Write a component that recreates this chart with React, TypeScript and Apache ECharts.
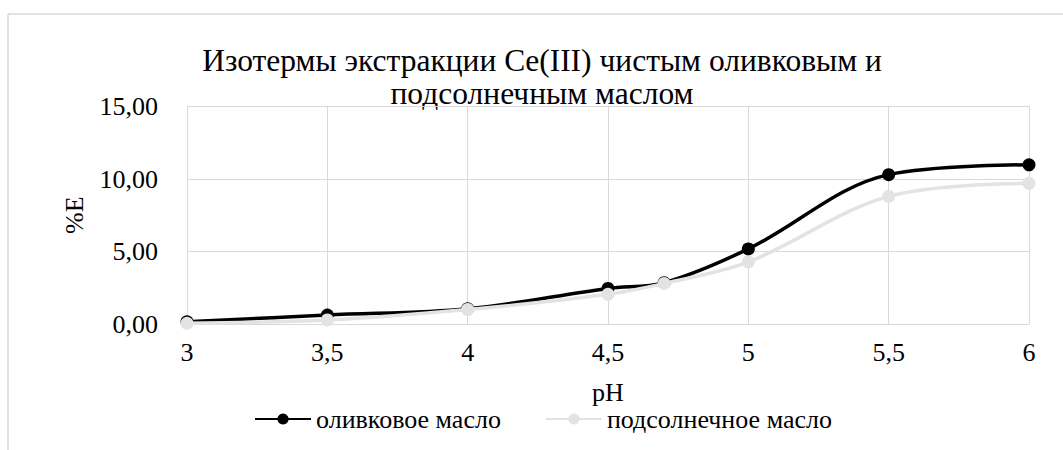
import React, { useEffect, useRef } from "react";
import * as echarts from "echarts";

const pH = [3, 3.5, 4, 4.5, 4.7, 5, 5.5, 6];
const oliveValues = [0.15, 0.62, 1.05, 2.45, 2.85, 5.18, 10.3, 10.98];
const sunflowerValues = [0.05, 0.28, 1.0, 2.05, 2.8, 4.28, 8.8, 9.7];
const seriesNames = ["оливковое масло", "подсолнечное масло"];
const titleLines = ["Изотермы экстракции Ce(III) чистым оливковым и", "подсолнечным маслом"];
const xAxisName = "pH";
const yAxisName = "%E";

const FONT = "Liberation Serif";

export default function App() {
  const ref = useRef<HTMLDivElement>(null);
  useEffect(() => {
    document.body.style.margin = "0";
    const chart = echarts.init(ref.current!, null, { renderer: "svg" });
    const toPairs = (vals: number[]) => pH.map((x, i) => [x, vals[i]]);
    chart.setOption({
      animation: false,
      backgroundColor: "#fff",
      textStyle: { fontFamily: FONT, color: "#000" },
      graphic: [
        { type: "line", shape: { x1: 8, y1: 14, x2: 8, y2: 450 }, style: { stroke: "#d9d9d9", lineWidth: 1.5 } },
        { type: "line", shape: { x1: 8, y1: 14, x2: 1063, y2: 14 }, style: { stroke: "#d9d9d9", lineWidth: 1.5 } },
        {
          type: "text", x: 542, y: 60,
          style: { text: titleLines[0], fontFamily: FONT, fontSize: 31.5, fill: "#000", align: "center", verticalAlign: "middle" },
        },
        {
          type: "text", x: 542, y: 93,
          style: { text: titleLines[1], fontFamily: FONT, fontSize: 31.5, fill: "#000", align: "center", verticalAlign: "middle" },
        },
      ],
      grid: { left: 187, right: 34, top: 106.5, bottom: 126, containLabel: false },
      legend: {
        bottom: 13,
        left: 249,
        itemWidth: 56,
        itemHeight: 14,
        itemGap: 44,
        textStyle: { fontFamily: FONT, fontSize: 26, color: "#000" },
        data: seriesNames,
      },
      xAxis: {
        type: "value",
        min: 3,
        max: 6,
        interval: 0.5,
        name: xAxisName,
        nameLocation: "middle",
        nameGap: 55,
        nameTextStyle: { fontFamily: FONT, fontSize: 26, color: "#000" },
        axisLine: { show: true, lineStyle: { color: "#d9d9d9", width: 1 } },
        axisTick: { show: false },
        splitLine: { show: true, lineStyle: { color: "#d9d9d9", width: 1 } },
        axisLabel: {
          fontFamily: FONT, fontSize: 26, color: "#000", margin: 15,
          formatter: (v: number) => String(v).replace(".", ","),
        },
      },
      yAxis: {
        type: "value",
        min: 0,
        max: 15,
        interval: 5,
        name: yAxisName,
        nameLocation: "middle",
        nameGap: 100,
        nameRotate: 90,
        nameTextStyle: { fontFamily: FONT, fontSize: 26, color: "#000" },
        axisLine: { show: false },
        axisTick: { show: false },
        splitLine: { show: true, lineStyle: { color: "#d9d9d9", width: 1 } },
        axisLabel: {
          fontFamily: FONT, fontSize: 26, color: "#000", margin: 29,
          formatter: (v: number) => v.toFixed(2).replace(".", ","),
        },
      },
      series: [
        {
          name: seriesNames[0],
          type: "line",
          data: toPairs(oliveValues),
          smooth: 0.35,
          symbol: "circle",
          symbolSize: 13,
          lineStyle: { color: "#000", width: 3.5 },
          itemStyle: { color: "#000" },
          z: 2,
        },
        {
          name: seriesNames[1],
          type: "line",
          data: toPairs(sunflowerValues),
          smooth: 0.35,
          symbol: "circle",
          symbolSize: 13,
          lineStyle: { color: "#e3e3e3", width: 3.5 },
          itemStyle: { color: "#e3e3e3" },
          z: 3,
        },
      ],
    });
    return () => chart.dispose();
  }, []);
  return <div ref={ref} style={{ width: 1063, height: 450 }} />;
}
